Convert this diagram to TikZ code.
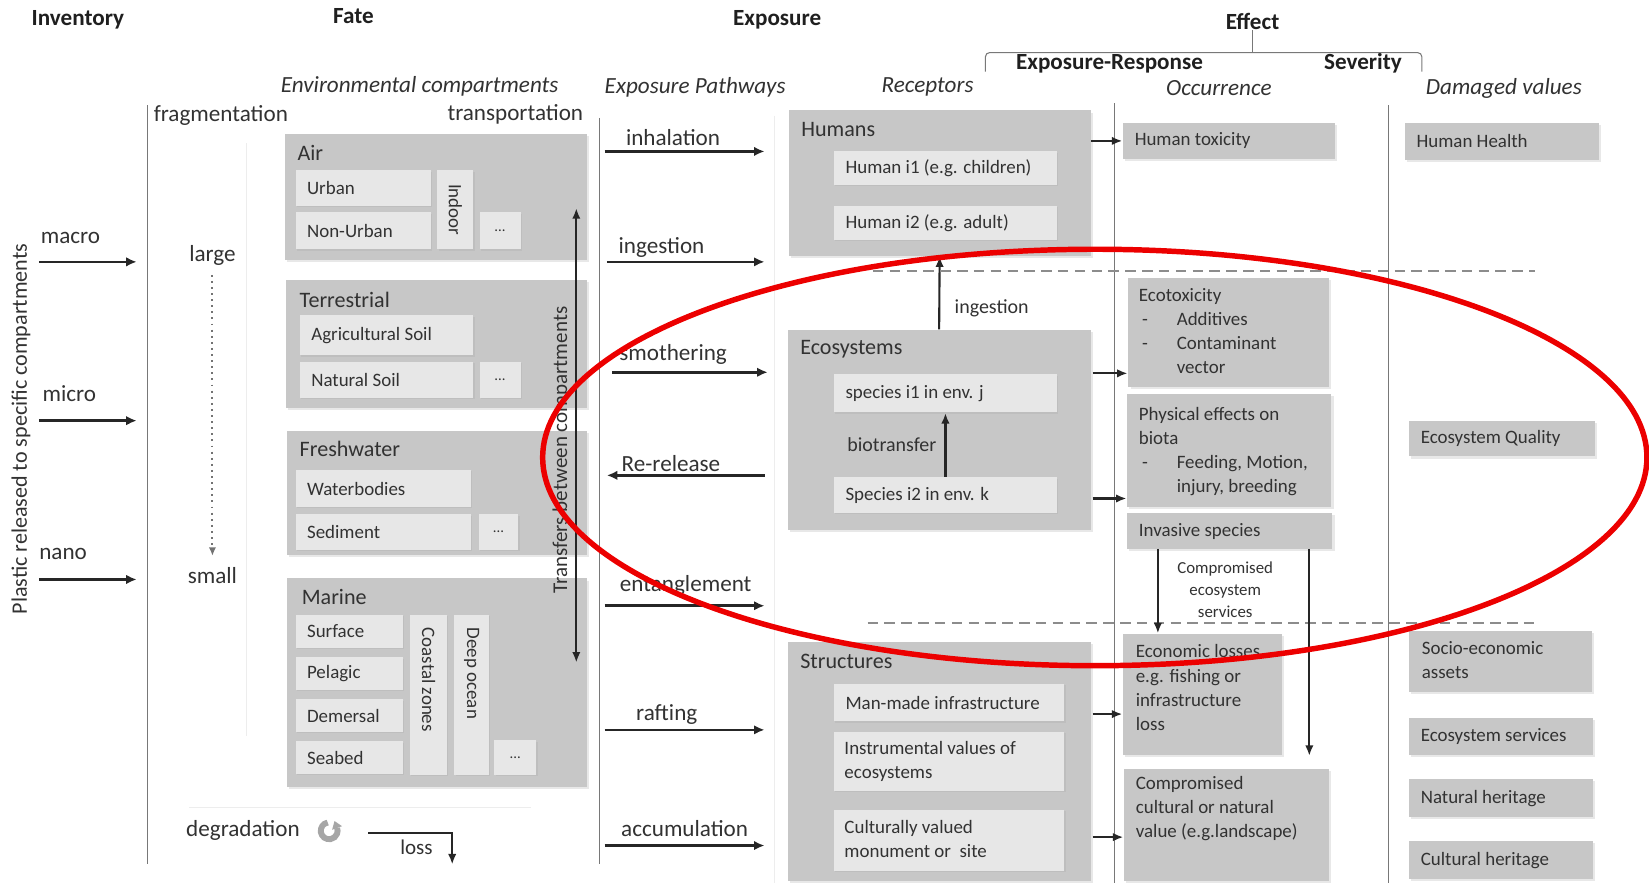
\documentclass[tikz,border=0pt]{standalone}
\usepackage{fontspec}
\setmainfont{Carlito}
\usetikzlibrary{arrows.meta,fit,shadows}

\definecolor{boxgray}{RGB}{199,199,199}
\definecolor{cellgray}{RGB}{231,231,231}
\definecolor{txtgray}{RGB}{50,50,50}
\definecolor{sepgray}{RGB}{120,120,120}
\definecolor{ringred}{RGB}{236,0,0}

\tikzset{every picture/.style={line width=0.75pt}}
\tikzset{
  grp/.style={fill=boxgray, inner sep=0pt, drop shadow={opacity=0.18,shadow xshift=1pt,shadow yshift=-1pt}},
  cell/.style={fill=cellgray, inner sep=0pt, drop shadow={opacity=0.12,shadow xshift=0.6pt,shadow yshift=-0.6pt}},
  colhead/.style={font=\bfseries\fontsize{11}{13}\selectfont, text=black!88, inner sep=0pt},
  subhead/.style={font=\itshape\fontsize{11}{13}\selectfont, text=txtgray, inner sep=0pt},
  lbl/.style={font=\fontsize{11}{13}\selectfont, text=txtgray, inner sep=0pt},
  grptitle/.style={anchor=west, font=\fontsize{10.5}{12}\selectfont, text=txtgray, inner sep=0pt},
  celltxt/.style={anchor=west, xshift=5.5pt, font=\fontsize{9}{11.5}\selectfont, text=txtgray, inner sep=0pt},
  multitxt/.style={anchor=north west, align=left, font=\fontsize{9}{11.5}\selectfont, text=txtgray, inner sep=0pt},
  vertxt/.style={rotate=-90, font=\fontsize{9}{11}\selectfont, text=txtgray, inner sep=0pt},
  more/.style={font=\fontsize{7}{8}\selectfont, text=txtgray, inner sep=0pt},
  divider/.style={draw=sepgray, line width=0.5pt},
  faint/.style={draw=black!7, line width=0.5pt},
  zone/.style={draw=black!45, dash pattern=on 5pt off 3pt, line width=0.9pt},
  arr/.style={draw=black!85, line width=1pt, -{Latex[length=5pt,width=4pt]}},
  pway/.style={draw=black!85, line width=1.2pt, -{Latex[length=5pt,width=4.5pt]}},
}

\begin{document}
\begin{tikzpicture}[x=0.5pt,y=0.5pt,yscale=-1,xscale=1]
\useasboundingbox (0,0) rectangle (1568,840);

%Straight Lines [guides]
\draw[faint] (234,136) -- (234,700);
\draw[faint] (180,768) -- (505,768);
\draw[faint] (736,110) -- (736,840);
\draw[divider] (140,100) -- (140,822);
\draw[divider] (570,112) -- (570,822);
\draw[divider] (1060,98) -- (1060,840);
\draw[divider] (1320,100) -- (1320,840);

% Text Node [column heads]
\node[colhead] (inventory) at (74,19) {Inventory};
\node[colhead] (fate) at (336,15) {Fate};
\node[colhead] (exposure) at (739,19) {Exposure};
\node[colhead] (effect) at (1191,20) {Effect};
\node[colhead] (expresp) at (1055,61) {Exposure-Response};
\node[colhead] (severity) at (1296,60) {Severity};
\draw[divider, rounded corners=2pt] (937,68) -- (937,50) -- (1352,50) -- (1352,68);
\draw[divider] (1191,50) -- (effect.south);
\node[subhead] (envcomp) at (399,82) {Environmental compartments};
\node[subhead] (exppath) at (661,83) {Exposure Pathways};
\node[subhead] (receptors) at (882,83) {Receptors};
\node[subhead] (occurrence) at (1159,84) {Occurrence};
\node[subhead] (damaged) at (1430,84) {Damaged values};
\node[lbl] (fragm) at (210,110) {fragmentation};
\node[lbl] (transp) at (490,109) {transportation};

% Text Node [inventory]
\node[lbl, font=\fontsize{10.5}{12}\selectfont, rotate=90] (plastic) at (20,408) {Plastic released to specific compartments};
\node[lbl] (macro) at (67,226) {macro};
\node[lbl] (micro) at (66,374) {micro};
\node[lbl] (nano) at (60,527) {nano};
\coordinate (macroS) at (37,249); \coordinate (macroE) at (130,249);
\coordinate (microS) at (37,400); \coordinate (microE) at (130,400);
\coordinate (nanoS) at (37,551); \coordinate (nanoE) at (130,551);
\draw[pway] (macroS) -- (macroE);
\draw[pway] (microS) -- (microE);
\draw[pway] (nanoS) -- (nanoE);

% Text Node [fate]
\node[lbl] (large) at (202,243) {large};
\node[lbl] (small) at (202,547) {small};
\draw[black!55, dotted, line width=0.9pt, -{Latex[length=4pt,width=3.5pt]}, shorten <=4pt, shorten >=5pt] (large.south) -- (small.north);
\node[lbl] (degr) at (231,790) {degradation};
%Shape: Ring arrow
\draw[black!35, line width=2.8pt] (313,790) ++(-100:8) arc[start angle=-100, end angle=-380, radius=8];
\fill[black!35] (318.1,780.7) -- (325.2,785.6) -- (315.8,789.0) -- cycle;
\coordinate (lossS) at (350,792); \coordinate (lossE) at (430,822);
\draw[arr] (lossS) -| (lossE);
\node[lbl, font=\fontsize{10}{12}\selectfont] (loss) at (396,806) {loss};

%Shape: Rectangle [air]
\node[grp, fit={(271,127) (558,247)}] (air) {};
\node[grptitle] (airT) at ([shift={(12,19)}]air.north west) {Air};
\node[cell, fit={(281,162) (410,196)}] (urban) {};
\node[celltxt] (urbanT) at (urban.west) {Urban};
\node[cell, fit={(281,202) (410,237)}] (nonurban) {};
\node[celltxt] (nonurbanT) at (nonurban.west) {Non-Urban};
\node[cell, fit={(416,162) (450,237)}] (indoor) {};
\node[vertxt] (indoorT) at (indoor) {Indoor};
\node[cell, fit={(456,202) (495,237)}] (airmore) {};
\node[more] (airmoreT) at (airmore) {...};

%Shape: Rectangle [terrestrial]
\node[grp, fit={(272,266) (558,388)}] (terr) {};
\node[grptitle] (terrT) at ([shift={(13,20)}]terr.north west) {Terrestrial};
\node[cell, fit={(285,300) (450,338)}] (agri) {};
\node[celltxt] (agriT) at (agri.west) {Agricultural Soil};
\node[cell, fit={(285,344) (450,378)}] (natsoil) {};
\node[celltxt] (natsoilT) at (natsoil.west) {Natural Soil};
\node[cell, fit={(456,344) (495,378)}] (terrmore) {};
\node[more] (terrmoreT) at (terrmore) {...};

%Shape: Rectangle [freshwater]
\node[grp, fit={(273,410) (558,528)}] (fresh) {};
\node[grptitle] (freshT) at ([shift={(12,18)}]fresh.north west) {Freshwater};
\node[cell, fit={(281,447) (448,482)}] (waterb) {};
\node[celltxt] (waterbT) at (waterb.west) {Waterbodies};
\node[cell, fit={(281,489) (448,523)}] (sedim) {};
\node[celltxt] (sedimT) at (sedim.west) {Sediment};
\node[cell, fit={(455,489) (493,523)}] (freshmore) {};
\node[more] (freshmoreT) at (freshmore) {...};

%Shape: Rectangle [marine]
\node[grp, fit={(273,550) (558,748)}] (marine) {};
\node[grptitle] (marineT) at ([shift={(14,18)}]marine.north west) {Marine};
\node[cell, fit={(281,585) (383,616)}] (surf) {};
\node[celltxt] (surfT) at (surf.west) {Surface};
\node[cell, fit={(281,625) (383,656)}] (pelag) {};
\node[celltxt] (pelagT) at (pelag.west) {Pelagic};
\node[cell, fit={(281,665) (383,696)}] (demer) {};
\node[celltxt] (demerT) at (demer.west) {Demersal};
\node[cell, fit={(281,705) (383,736)}] (seabed) {};
\node[celltxt] (seabedT) at (seabed.west) {Seabed};
\node[cell, fit={(390,585) (425,737)}] (coast) {};
\node[vertxt, anchor=west] (coastT) at ([yshift=6pt]coast.north) {Coastal zones};
\node[cell, fit={(432,585) (465,737)}] (deep) {};
\node[vertxt, anchor=west] (deepT) at ([yshift=6pt]deep.north) {Deep ocean};
\node[cell, fit={(470,704) (510,737)}] (marmore) {};
\node[more] (marmoreT) at (marmore) {...};

%Straight Lines [transfers]
\coordinate (trTop) at (548,198); \coordinate (trBot) at (548,630);
\draw[draw=black!85, line width=1pt, {Latex[length=5pt,width=4pt]}-{Latex[length=5pt,width=4pt]}] (trTop) -- (trBot);
\node[lbl, font=\fontsize{10}{12}\selectfont, rotate=90] (transfer) at (534,428) {Transfers between compartments};

% Text Node [pathways]
\node[lbl] (inhal) at (640,131) {inhalation};
\node[lbl] (inges) at (629,235) {ingestion};
\node[lbl] (smoth) at (640,337) {smothering};
\node[lbl] (rerel) at (638,441) {Re-release};
\node[lbl] (entan) at (652,557) {entanglement};
\node[lbl] (raft) at (634,679) {rafting};
\node[lbl] (accum) at (651,788) {accumulation};
\coordinate (inhalS) at (575,144); \coordinate (inhalE) at (727,144);
\coordinate (ingesS) at (577,249); \coordinate (ingesE) at (727,249);
\coordinate (smothS) at (582,354); \coordinate (smothE) at (730,354);
\coordinate (rerelS) at (727,452); \coordinate (rerelE) at (577,452);
\coordinate (entanS) at (575,576); \coordinate (entanE) at (727,576);
\coordinate (raftS) at (575,694); \coordinate (raftE) at (727,694);
\coordinate (accumS) at (575,804); \coordinate (accumE) at (727,804);
\draw[pway] (inhalS) -- (inhalE);
\draw[pway] (ingesS) -- (ingesE);
\draw[pway] (smothS) -- (smothE);
\draw[pway] (rerelS) -- (rerelE);
\draw[pway] (entanS) -- (entanE);
\draw[pway] (raftS) -- (raftE);
\draw[pway] (accumS) -- (accumE);

%Shape: Rectangle [receptors]
\node[grp, fit={(750,105) (1037,243)}] (humans) {};
\node[grptitle] (humansT) at ([shift={(12,19)}]humans.north west) {Humans};
\node[cell, fit={(793,144) (1005,176)}] (hum1) {};
\node[celltxt] (hum1T) at (hum1.west) {Human i1 (e.g. children)};
\node[cell, fit={(793,196) (1005,228)}] (hum2) {};
\node[celltxt] (hum2T) at (hum2.west) {Human i2 (e.g. adult)};

\node[grp, fit={(749,314) (1037,504)}] (eco) {};
\node[grptitle] (ecoT) at ([shift={(12,19)}]eco.north west) {Ecosystems};
\node[cell, fit={(793,356) (1005,392)}] (spec1) {};
\node[celltxt] (spec1T) at (spec1.west) {species i1 in env. j};
\node[cell, fit={(793,454) (1005,488)}] (spec2) {};
\node[celltxt] (spec2T) at (spec2.west) {Species i2 in env. k};
\draw[arr] (spec2.north) -- (spec1.south);
\node[lbl, font=\fontsize{9.5}{11}\selectfont] (biotr) at (848,423) {biotransfer};
\draw[arr] (eco.north) -- (humans.south);
\node[lbl, font=\fontsize{9.5}{11}\selectfont] (ingest2) at (943,293) {ingestion};

\node[grp, fit={(749,610) (1037,838)}] (struct) {};
\node[grptitle] (structT) at ([shift={(12,20)}]struct.north west) {Structures};
\node[cell, fit={(793,650) (1012,686)}] (manmade) {};
\node[celltxt] (manmadeT) at (manmade.west) {Man-made infrastructure};
\node[cell, fit={(793,696) (1012,752)}] (instr) {};
\node[multitxt] (instrT) at ([shift={(10,9)}]instr.north west) {Instrumental values of\\ecosystems};
\node[cell, fit={(793,770) (1012,828)}] (cult) {};
\node[multitxt] (cultT) at ([shift={(10,10)}]cult.north west) {Culturally valued\\monument or\ \ site};

%Straight Lines [zones]
\draw[zone] (830,258) -- (1460,258);
\draw[zone] (825,592) -- (1460,592);

%Shape: Rectangle [occurrence]
\node[grp, fit={(1068,117) (1269,151)}] (htox) {};
\node[celltxt] (htoxT) at (htox.west) {Human toxicity};
\node[grp, fit={(1073,264) (1264,368)}] (ecotox) {};
\node[multitxt] (ecotoxT) at ([shift={(10,10)}]ecotox.north west) {Ecotoxicity\\\makebox[18pt][l]{\,-}Additives\\\makebox[18pt][l]{\,-}Contaminant\\\hspace*{18pt}vector};
\node[grp, fit={(1072,375) (1266,482)}] (phys) {};
\node[multitxt] (physT) at ([shift={(11,12)}]phys.north west) {Physical effects on\\biota\\\makebox[18pt][l]{\,-}Feeding, Motion,\\\hspace*{18pt}injury, breeding};
\node[grp, fit={(1072,488) (1267,522)}] (invas) {};
\node[celltxt] (invasT) at (invas.west) {Invasive species};
\node[grp, fit={(1068,603) (1219,718)}] (econ) {};
\node[multitxt] (econT) at ([shift={(12,10)}]econ.north west) {Economic losses\\e.g. fishing or\\infrastructure\\loss};
\node[grp, fit={(1069,731) (1264,838)}] (compr) {};
\node[multitxt] (comprT) at ([shift={(11,7)}]compr.north west) {Compromised\\cultural or natural\\value (e.g.landscape)};

\draw[arr] (humans.east |- htox.west) -- (htox.west);
\coordinate (ecoOut1) at (1039,355); \draw[arr] (ecoOut1) -- (ecoOut1 -| ecotox.west);
\coordinate (ecoOut2) at (1039,474); \draw[arr] (ecoOut2) -- (ecoOut2 -| phys.west);
\coordinate (strOut1) at (1039,679); \draw[arr] (strOut1) -- (strOut1 -| econ.west);
\coordinate (strOut2) at (1039,796); \draw[arr] (strOut2) -- (strOut2 -| compr.west);
\coordinate (invA) at (1101,522); \draw[arr] (invA) -- (invA |- econ.north);
\coordinate (invB) at (1245,522); \draw[arr] (invB) -- (invB |- econ.south);
\node[lbl, font=\fontsize{8}{10.5}\selectfont, align=center] (cesT) at (1165,561) {Compromised\\ecosystem\\services};

%Shape: Rectangle [damaged values]
\node[grp, fit={(1336,117) (1520,152)}] (hhealth) {};
\node[celltxt] (hhealthT) at (hhealth.west) {Human Health};
\node[grp, fit={(1340,400) (1517,434)}] (ecoq) {};
\node[celltxt] (ecoqT) at (ecoq.west) {Ecosystem Quality};
\node[grp, fit={(1340,600) (1514,658)}] (socio) {};
\node[multitxt] (socioT) at ([shift={(12,10)}]socio.north west) {Socio-economic\\assets};
\node[grp, fit={(1340,683) (1515,718)}] (ecoserv) {};
\node[celltxt] (ecoservT) at (ecoserv.west) {Ecosystem services};
\node[grp, fit={(1340,741) (1515,777)}] (nather) {};
\node[celltxt] (natherT) at (nather.west) {Natural heritage};
\node[grp, fit={(1340,800) (1515,836)}] (culher) {};
\node[celltxt] (culherT) at (culher.west) {Cultural heritage};

%Shape: Ellipse [highlight]
\draw[ringred, line width=2.6pt] (1041,435) ellipse [x radius=525, y radius=198];

\end{tikzpicture}
\end{document}
